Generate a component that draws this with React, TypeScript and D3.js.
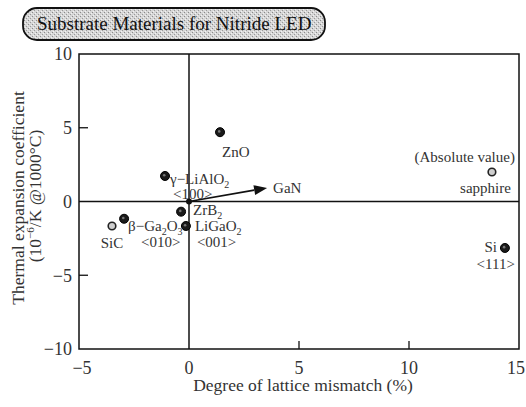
import React from 'react';
import * as d3 from 'd3';

// materials: name, lattice mismatch (%), thermal expansion coeff (1e-6/K), filled marker?
const names = ['ZnO', 'γ-LiAlO2', 'ZrB2', 'LiGaO2', 'β-Ga2O3', 'SiC', 'sapphire', 'Si'];
const mismatch = [1.41, -1.09, -0.36, -0.14, -2.95, -3.5, 13.77, 14.36];
const expansion = [4.7, 1.73, -0.69, -1.66, -1.17, -1.66, 2.0, -3.15];
const filled = [true, true, true, true, true, false, false, true];

// label lines per material ("_n" means subscript n)
const labelLines: string[][] = [
  ['ZnO'],
  ['γ−LiAlO_2', '<100>'],
  ['ZrB_2'],
  ['LiGaO_2', '<001>'],
  ['β−Ga_2O_3', '<010>'],
  ['SiC'],
  ['(Absolute value)', 'sapphire'],
  ['Si', '<111>'],
];
// [dx, dy, anchor] per line
const labelPos: [number, number, string][][] = [
  [[2, 25, 'start']],
  [[5, 8, 'start'], [8, 23, 'start']],
  [[12, 3, 'start']],
  [[9, 5, 'start'], [11, 21, 'start']],
  [[4, 12, 'start'], [17, 28, 'start']],
  [[0, 22, 'middle']],
  [[23, -10, 'end'], [19, 21, 'end']],
  [[-8, 4, 'end'], [10, 21, 'end']],
];

// GaN arrow from origin
const ganStart = [0, 0];
const ganEnd = [3.55, 0.92];

const xTicks = [-5, 0, 5, 10, 15];
const yTicks = [-10, -5, 0, 5, 10];

const title = 'Substrate Materials for Nitride LED';
const xTitle = 'Degree of lattice mismatch (%)';
const yTitle = 'Thermal expansion coefficient';

const W = 526;
const H = 407;
const FONT = '"Liberation Serif", "DejaVu Serif", serif';

const renderLabel = (s: string) => {
  const parts = s.split(/_(\d)/);
  return parts.map((p, i) =>
    i % 2 === 1 ? (
      <tspan key={i} fontSize={10} dy={4}>
        {p}
      </tspan>
    ) : (
      <tspan key={i} dy={i > 0 ? -4 : 0}>
        {p}
      </tspan>
    )
  );
};

const App: React.FC = () => {
  const x = d3.scaleLinear().domain([-5, 15]).range([79, 519]);
  const y = d3.scaleLinear().domain([-10, 10]).range([349, 54]);
  const [x0, x1] = x.range();
  const [y0, y1] = y.range();

  const gx0 = x(ganStart[0]);
  const gy0 = y(ganStart[1]);
  const gx1 = x(ganEnd[0]);
  const gy1 = y(ganEnd[1]);
  const ang = Math.atan2(gy1 - gy0, gx1 - gx0);
  const headLen = 13;
  const headW = 5;
  const bx = gx1 - headLen * Math.cos(ang);
  const by = gy1 - headLen * Math.sin(ang);
  const head = [
    [gx1, gy1],
    [bx + headW * Math.sin(ang), by - headW * Math.cos(ang)],
    [bx - headW * Math.sin(ang), by + headW * Math.cos(ang)],
  ];

  return (
    <svg
      width={W}
      height={H}
      style={{ position: 'absolute', left: 0, top: 0, background: '#fff' }}
      fontFamily={FONT}
    >
      <defs>
        <pattern id="stipple" width="4" height="4" patternUnits="userSpaceOnUse">
          <rect width="4" height="4" fill="#d6d6d6" />
          <rect x="0" y="0" width="1" height="1" fill="#8a8a8a" />
          <rect x="2" y="2" width="1" height="1" fill="#9a9a9a" />
          <rect x="3" y="1" width="1" height="1" fill="#f2f2f2" />
          <rect x="1" y="3" width="1" height="1" fill="#f2f2f2" />
        </pattern>
      </defs>

      {/* title box */}
      <rect x={23} y={8} width={302} height={32} rx={14} fill="url(#stipple)" stroke="#111" strokeWidth={1.8} />
      <text x={37} y={30} fontSize={19} fill="#111">
        {title}
      </text>

      {/* plot frame */}
      <rect x={x0} y={y1} width={x1 - x0} height={y0 - y1} fill="none" stroke="#111" strokeWidth={1.5} />
      <line x1={x0} x2={x1} y1={y(0)} y2={y(0)} stroke="#111" strokeWidth={1.5} />
      <line x1={x(0)} x2={x(0)} y1={y1} y2={y0} stroke="#111" strokeWidth={1.5} />

      {/* ticks */}
      {xTicks
        .filter((t) => t > -5 && t < 15 && t !== 0)
        .map((t) => (
          <line key={'xt' + t} x1={x(t)} x2={x(t)} y1={y0} y2={y0 - 8} stroke="#111" strokeWidth={1.3} />
        ))}
      {yTicks
        .filter((t) => t > -10 && t < 10 && t !== 0)
        .map((t) => (
          <line key={'yt' + t} x1={x0} x2={x0 + 9} y1={y(t)} y2={y(t)} stroke="#111" strokeWidth={1.3} />
        ))}

      {/* tick labels */}
      {xTicks.map((t) => (
        <text
          key={'xl' + t}
          x={x(t) + (t < 0 ? 3 : 0)}
          y={374}
          fontSize={18}
          textAnchor={t === 15 ? 'end' : 'middle'}
          dx={t === 15 ? 6 : 0}
          fill="#333"
        >
          {t < 0 ? '−' + Math.abs(t) : t}
        </text>
      ))}
      {yTicks.map((t) => (
        <text key={'yl' + t} x={72} y={y(t)} dy="0.35em" fontSize={18} textAnchor="end" fill="#333">
          {t < 0 ? '−' + Math.abs(t) : t}
        </text>
      ))}

      {/* axis titles */}
      <text x={303} y={391} fontSize={17.5} textAnchor="middle" fill="#333">
        {xTitle}
      </text>
      <text transform="translate(24,198) rotate(-90)" fontSize={17.5} textAnchor="middle" fill="#333">
        {yTitle}
      </text>
      <text transform="translate(41,196) rotate(-90)" fontSize={17.5} textAnchor="middle" fill="#333">
        (10
        <tspan fontSize={11} dy={-7}>
          −6
        </tspan>
        <tspan dy={7}>/K @1000°C)</tspan>
      </text>

      {/* GaN arrow */}
      <line x1={gx0} y1={gy0} x2={bx} y2={by} stroke="#111" strokeWidth={1.6} />
      <polygon points={head.map((p) => p.join(',')).join(' ')} fill="#111" />
      <circle cx={gx0} cy={gy0} r={3} fill="#111" />
      <text x={gx1 + 6} y={gy1 + 5} fontSize={15} fill="#333">
        GaN
      </text>

      {/* materials */}
      {names.map((n, i) => {
        const px = x(mismatch[i]);
        const py = y(expansion[i]);
        return (
          <g key={n}>
            {filled[i] ? (
              <>
                <circle cx={px} cy={py} r={4.5} fill="#1a1a1a" stroke="#000" strokeWidth={1} />
                <circle cx={px - 0.8} cy={py - 0.8} r={1.3} fill="#777" />
              </>
            ) : (
              <circle cx={px} cy={py} r={3.8} fill="#cfcfcf" stroke="#222" strokeWidth={1.6} />
            )}
            {labelLines[i].map((line, j) => {
              const [dx, dy, anchor] = labelPos[i][j];
              return (
                <text
                  key={j}
                  x={px + dx}
                  y={py + dy}
                  fontSize={15}
                  textAnchor={anchor as any}
                  fill="#333"
                >
                  {renderLabel(line)}
                </text>
              );
            })}
          </g>
        );
      })}
    </svg>
  );
};

export default App;
